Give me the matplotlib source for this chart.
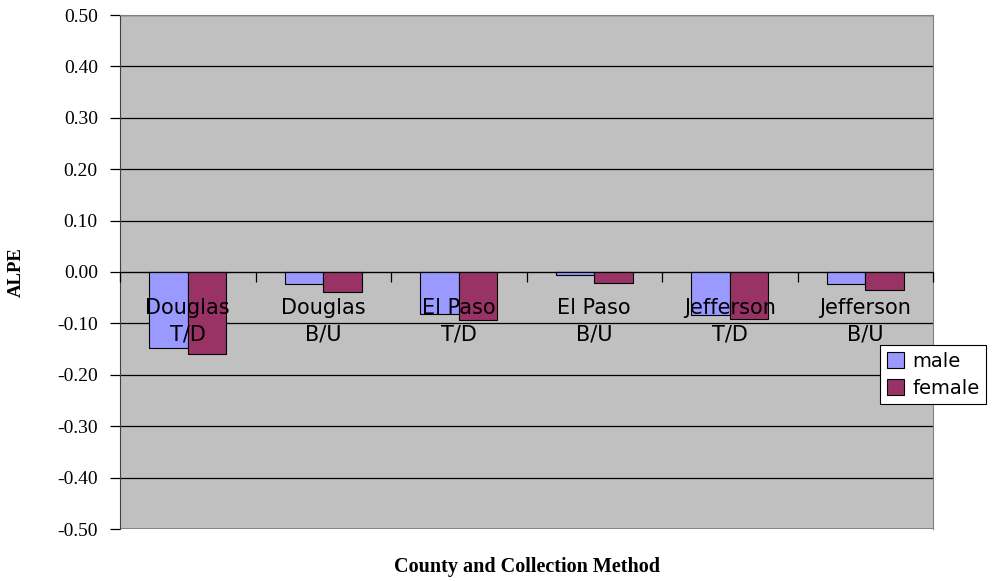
import matplotlib
matplotlib.use("Agg")
import matplotlib.pyplot as plt
import numpy as np
from matplotlib.ticker import FuncFormatter, FixedLocator

categories = ["Douglas\nT/D", "Douglas\nB/U", "El Paso\nT/D", "El Paso\nB/U", "Jefferson\nT/D", "Jefferson\nB/U"]
male = [-0.147, -0.023, -0.082, -0.005, -0.083, -0.023]
female = [-0.159, -0.038, -0.094, -0.021, -0.092, -0.035]
series_names = ["male", "female"]
yticks = [-0.5, -0.4, -0.3, -0.2, -0.1, 0.0, 0.1, 0.2, 0.3, 0.4, 0.5]

fig = plt.figure(figsize=(9.92, 5.81), dpi=100)
ax = fig.add_axes([120/992, 52/581, (933-120)/992, (529-15)/581])
ax.set_facecolor("#C0C0C0")

x = np.arange(len(categories))
w = 1/3.5
ax.bar(x - w/2, male, w, color="#9999FF", edgecolor="black", linewidth=0.8, label=series_names[0], zorder=3)
ax.bar(x + w/2, female, w, color="#993366", edgecolor="black", linewidth=0.8, label=series_names[1], zorder=3)

ax.set_xlim(-0.5, len(categories) - 0.5)
ax.set_ylim(-0.5, 0.5)
ax.set_yticks(yticks)
ax.yaxis.set_major_formatter(FuncFormatter(lambda v, p: f"{v:.2f}"))
ax.yaxis.grid(True, color="black", linewidth=0.9, zorder=1)
ax.set_axisbelow(True)
ax.tick_params(axis="y", direction="out", length=7, width=0.9, color="black", pad=9)
for lab in ax.get_yticklabels():
    lab.set_fontfamily("Liberation Serif")
    lab.set_fontsize(14)

# x axis on the zero line, drawn above the bars
ax.spines["bottom"].set_position(("data", 0))
ax.spines["bottom"].set_color("black")
ax.spines["bottom"].set_zorder(4)
ax.xaxis.set_major_locator(FixedLocator(np.arange(-0.5, len(categories), 1.0)))
ax.xaxis.set_major_formatter(FuncFormatter(lambda v, p: ""))
ax.tick_params(axis="x", which="major", direction="out", length=7, width=0.9, color="black")
ax.xaxis.set_minor_locator(FixedLocator(x))
ax.set_xticklabels(categories, minor=True, fontfamily="DejaVu Sans", fontsize=15, linespacing=1.4)
ax.tick_params(axis="x", which="minor", length=0, pad=19)
ax.xaxis.set_zorder(5)

ax.spines["left"].set_color("#404040")
ax.spines["right"].set_color("#808080")
ax.spines["top"].set_color("#808080")
ax.axhline(-0.5, color="#808080", linewidth=1.2, zorder=2)

ax.set_ylabel("ALPE", fontfamily="Liberation Serif", fontweight="bold", fontsize=13.5)
ax.yaxis.set_label_coords(-0.117, 0.5)
fig.text((120+933)/2/992, 1 - 567/581, "County and Collection Method", ha="center", va="center",
         fontfamily="Liberation Serif", fontweight="bold", fontsize=14.5)

leg = fig.legend(loc="upper left", bbox_to_anchor=(880/992, 1 - 345/581), frameon=True,
                 prop={"family": "DejaVu Sans", "size": 14}, handlelength=0.9, handleheight=0.9,
                 handletextpad=0.4, borderpad=0.35, labelspacing=0.4, borderaxespad=0,
                 fancybox=False, framealpha=1)
leg.get_frame().set_edgecolor("black")
leg.get_frame().set_linewidth(0.8)

fig.savefig("out.png", dpi=100)
